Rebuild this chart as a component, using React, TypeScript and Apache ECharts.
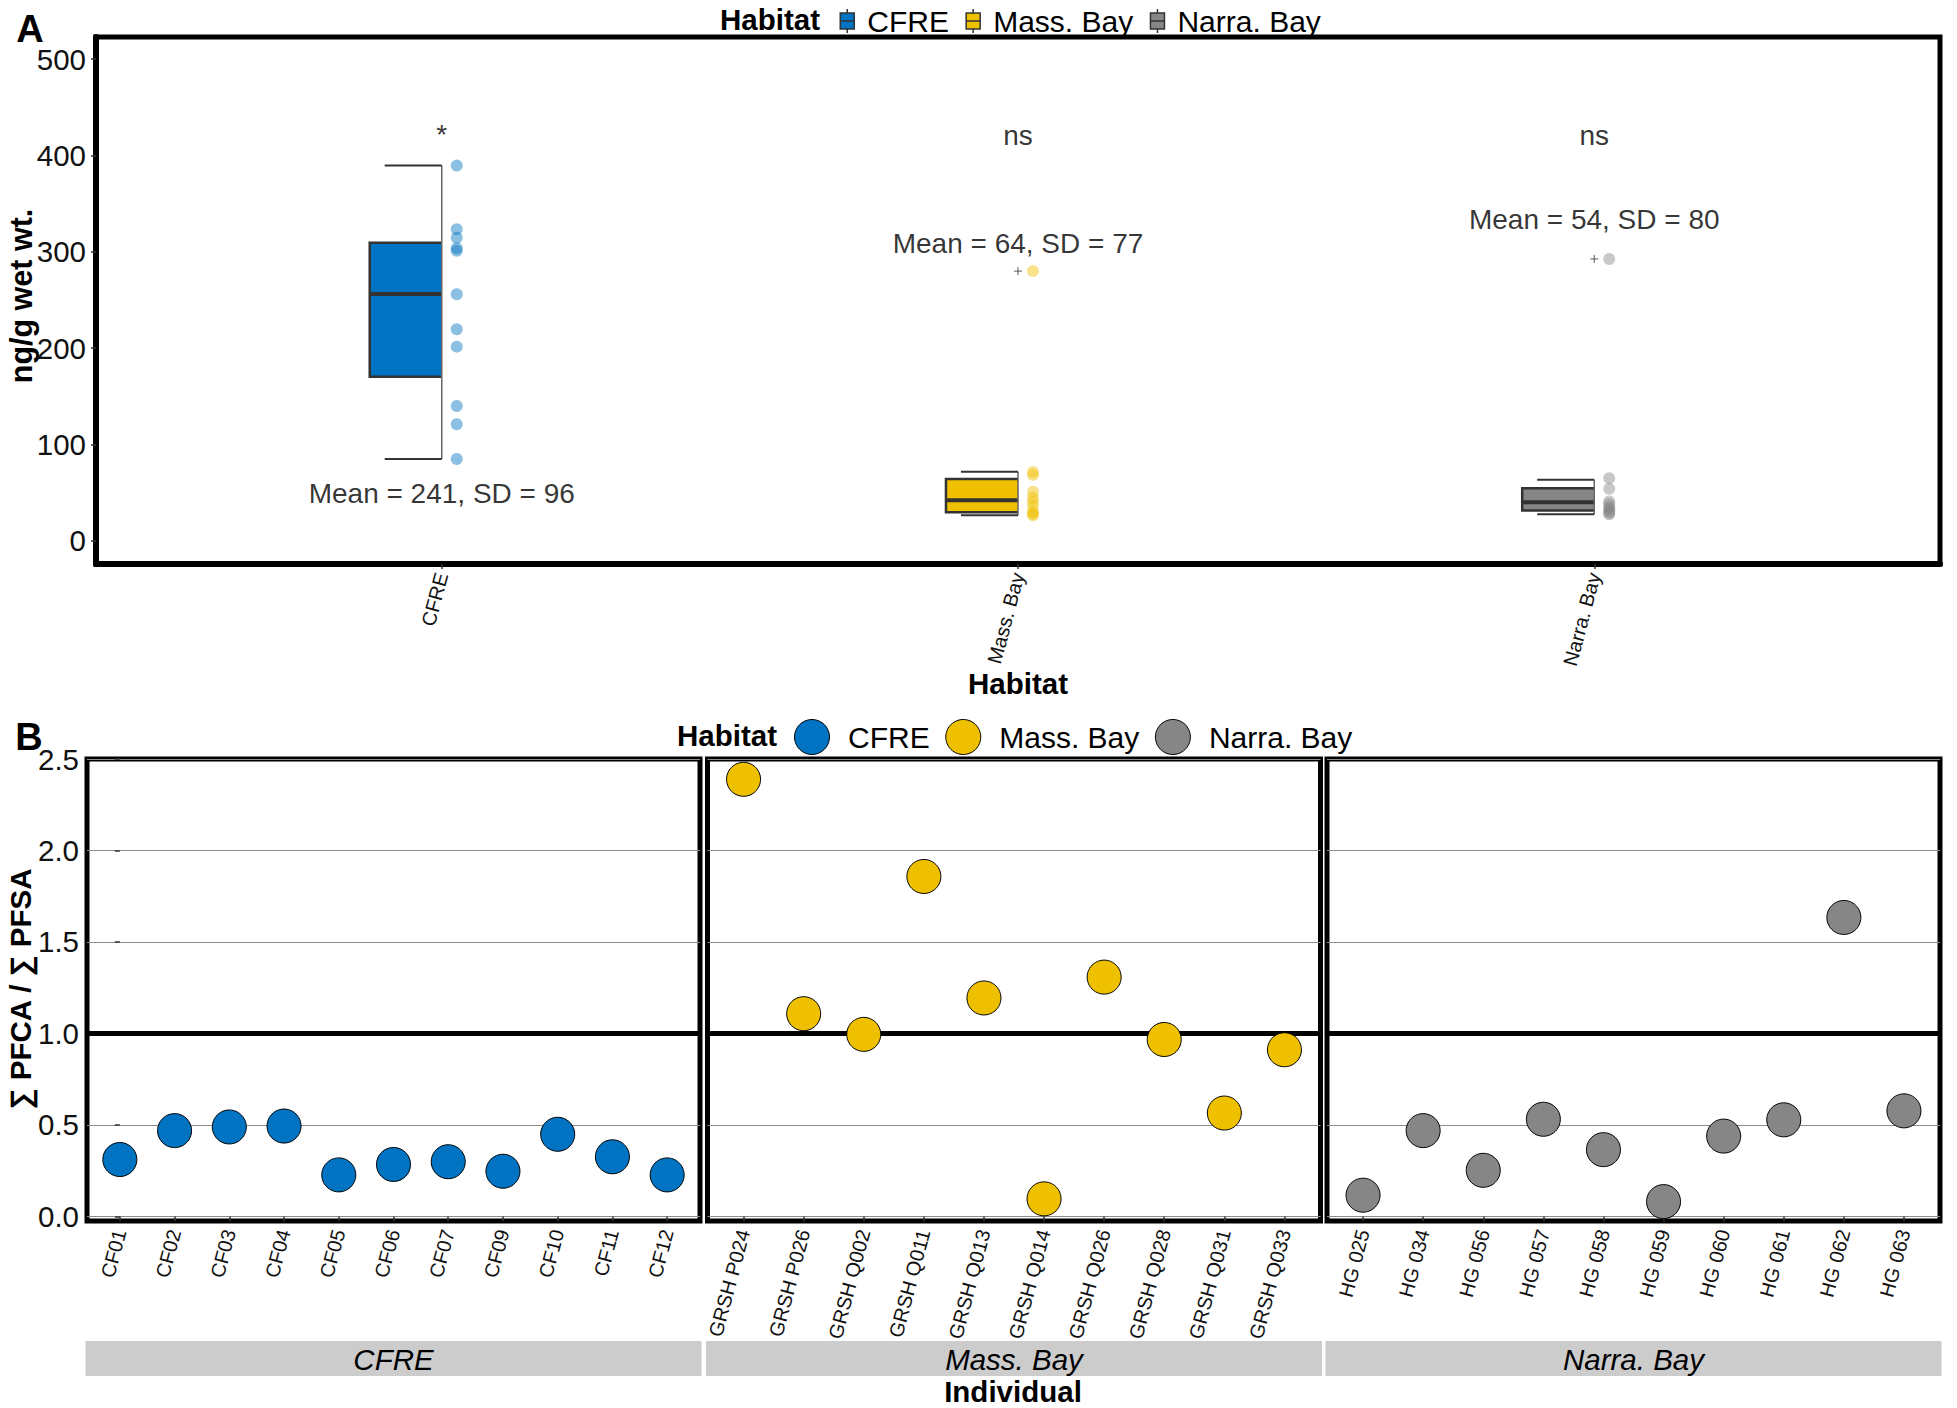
import React, { useEffect, useRef } from "react";
import * as echarts from "echarts";

// ---------- data ----------
const habitats = ["CFRE", "Mass. Bay", "Narra. Bay"];
const habitatColors = ["#0073C2", "#EFC000", "#868686"];

// Panel A: concentration (ng/g wet wt.) per individual
const cfreConc = [389.5, 323.4, 314.7, 303.7, 301.2, 256, 219.6, 201.6, 140, 121, 85];
const massConc = [280, 71.5, 68.5, 51, 45, 40.5, 36, 30, 28, 26.5];
const narraConc = [292.6, 65, 54, 41, 38, 35, 33, 31, 29, 27.7];
// box stats: [lower whisker, Q1, median, Q3, upper whisker]
const cfreBox = [85, 170.4, 256.3, 309.5, 389.5];
const massBox = [26.5, 29.6, 42.2, 64.3, 71.8];
const narraBox = [27.7, 31.5, 40, 54.6, 63.4];
const cfreOutliers: number[] = [];
const massOutliers = [280];
const narraOutliers = [292.6];
const meanLabels = ["Mean = 241, SD = 96", "Mean = 64, SD = 77", "Mean = 54, SD = 80"];
const meanLabelY = [49, 309, 334];
const sigLabels = ["*", "ns", "ns"];
const sigLabelY = [422, 421, 421];
const yTicksA = [0, 100, 200, 300, 400, 500];

// Panel B: ratio sum PFCA / sum PFSA per individual
const cfreIds = ["CF01", "CF02", "CF03", "CF04", "CF05", "CF06", "CF07", "CF09", "CF10", "CF11", "CF12"];
const cfreRatio = [0.311, 0.469, 0.489, 0.494, 0.227, 0.284, 0.299, 0.247, 0.449, 0.326, 0.227];
const massIds = ["GRSH P024", "GRSH P026", "GRSH Q002", "GRSH Q011", "GRSH Q013", "GRSH Q014", "GRSH Q026", "GRSH Q028", "GRSH Q031", "GRSH Q033"];
const massRatio = [2.389, 1.108, 0.995, 1.858, 1.194, 0.096, 1.308, 0.967, 0.565, 0.911];
const narraIds = ["HG 025", "HG 034", "HG 056", "HG 057", "HG 058", "HG 059", "HG 060", "HG 061", "HG 062", "HG 063"];
const narraRatio = [0.116, 0.469, 0.252, 0.531, 0.365, 0.081, 0.439, 0.528, 1.634, 0.577];
const yTicksB = [0, 0.5, 1.0, 1.5, 2.0, 2.5];
const refLineB = 1;

// ---------- layout / style ----------
const FONT = "Liberation Sans, Arial, Helvetica, sans-serif";
const FS = 29.5;
const A_GRID = { left: 96, top: 37, width: 1844, height: 527 };
const B_TOP = 759;
const B_HEIGHT = 462;
const B_LEFT = [87, 707.5, 1327];
const B_WIDTH = [613, 613, 613];
const BOX_W = 0.125;
const CAP_W = 0.099;
const POINT_OFFSET = 0.026;
const BOX_ICON = "path://M7,0L7,4M0,4L14,4L14,20L0,20ZM0,12L14,12M7,20L7,24";

const concArrays = [cfreConc, massConc, narraConc];
const boxArrays = [cfreBox, massBox, narraBox];
const outlierArrays = [cfreOutliers, massOutliers, narraOutliers];
const idArrays = [cfreIds, massIds, narraIds];
const ratioArrays = [cfreRatio, massRatio, narraRatio];

function renderHalfBox(_params: any, api: any) {
  const x = api.value(0);
  const lo = api.coord([x, api.value(1)]);
  const cx = lo[0];
  const yLo = lo[1];
  const yQ1 = api.coord([x, api.value(2)])[1];
  const yMed = api.coord([x, api.value(3)])[1];
  const yQ3 = api.coord([x, api.value(4)])[1];
  const yHi = api.coord([x, api.value(5)])[1];
  const unit = api.size([1, 0])[0];
  const bw = unit * BOX_W;
  const cw = unit * CAP_W;
  const color = api.visual("color");
  return {
    type: "group",
    children: [
      { type: "rect", shape: { x: cx - bw, y: yQ3, width: bw, height: yQ1 - yQ3 }, style: { fill: color } },
      {
        type: "polyline",
        shape: { points: [[cx, yQ3], [cx - bw, yQ3], [cx - bw, yQ1], [cx, yQ1]] },
        style: { fill: null, stroke: "#333333", lineWidth: 2.5 },
      },
      { type: "line", shape: { x1: cx - bw, y1: yMed, x2: cx, y2: yMed }, style: { stroke: "#333333", lineWidth: 4 } },
      { type: "line", shape: { x1: cx, y1: yHi, x2: cx, y2: yLo }, style: { stroke: "#666666", lineWidth: 1.5 } },
      { type: "line", shape: { x1: cx - cw, y1: yHi, x2: cx, y2: yHi }, style: { stroke: "#333333", lineWidth: 2 } },
      { type: "line", shape: { x1: cx - cw, y1: yLo, x2: cx, y2: yLo }, style: { stroke: "#333333", lineWidth: 2 } },
    ],
  };
}

function buildOption(): any {
  const grids: any[] = [
    { ...A_GRID, show: true, borderColor: "#000", borderWidth: 5, containLabel: false },
  ];
  B_LEFT.forEach((l, k) => {
    grids.push({ left: l, top: B_TOP, width: B_WIDTH[k], height: B_HEIGHT, show: true, borderColor: "#000", borderWidth: 5 });
  });

  const tickLabelStyle = { color: "#111", fontFamily: FONT };

  const xAxes: any[] = [
    {
      type: "value",
      gridIndex: 0,
      min: 0.4,
      max: 3.6,
      splitLine: { show: false },
      axisLine: { show: true, onZero: false, lineStyle: { color: "#000", width: 6 } },
      axisTick: { show: true, customValues: [1, 2, 3], length: 5, lineStyle: { color: "#333", width: 1.5 } },
      axisLabel: {
        show: true,
        customValues: [1, 2, 3],
        formatter: (v: number) => habitats[Math.round(v) - 1] ?? "",
        rotate: 75,
        fontSize: 20,
        margin: 9,
        ...tickLabelStyle,
      },
    },
  ];
  const yAxes: any[] = [
    {
      type: "value",
      gridIndex: 0,
      min: -24,
      max: 523,
      splitLine: { show: false },
      axisLine: { show: true, onZero: false, lineStyle: { color: "#000", width: 6 } },
      axisTick: { show: true, customValues: yTicksA, length: 5, lineStyle: { color: "#333", width: 1.5 } },
      axisLabel: { show: true, customValues: yTicksA, fontSize: FS, margin: 10, ...tickLabelStyle },
    },
  ];
  idArrays.forEach((ids, k) => {
    const idx = ids.map((_, i) => i);
    xAxes.push({
      type: "value",
      gridIndex: k + 1,
      min: -0.6,
      max: ids.length - 0.4,
      splitLine: { show: false },
      axisLine: { show: false },
      axisTick: { show: true, customValues: idx, length: 5, lineStyle: { color: "#333", width: 1.5 } },
      axisLabel: {
        show: true,
        customValues: idx,
        formatter: (v: number) => ids[Math.round(v)] ?? "",
        rotate: 75,
        fontSize: 20,
        margin: 9,
        ...tickLabelStyle,
      },
    });
    yAxes.push({
      type: "value",
      gridIndex: k + 1,
      min: -0.025,
      max: 2.5,
      splitLine: { show: true, lineStyle: { color: "#8c8c8c", width: 1 } },
      axisLine: { show: false },
      axisTick: { show: k === 0, customValues: yTicksB, length: 5, lineStyle: { color: "#333", width: 1.5 } },
      axisLabel: {
        show: k === 0,
        customValues: yTicksB,
        formatter: (v: number) => v.toFixed(1),
        fontSize: FS,
        margin: 8,
        ...tickLabelStyle,
      },
    });
  });

  const series: any[] = [];
  // Panel A half boxplots
  habitats.forEach((h, k) => {
    series.push({
      type: "custom",
      name: h,
      xAxisIndex: 0,
      yAxisIndex: 0,
      renderItem: renderHalfBox,
      itemStyle: { color: habitatColors[k] },
      encode: { x: 0, y: [1, 2, 3, 4, 5] },
      data: [[k + 1, ...boxArrays[k]]],
      z: 2,
    });
  });
  // Panel A points
  habitats.forEach((h, k) => {
    series.push({
      type: "scatter",
      xAxisIndex: 0,
      yAxisIndex: 0,
      symbolSize: 12,
      itemStyle: { color: habitatColors[k], opacity: 0.45 },
      data: concArrays[k].map((v) => [k + 1 + POINT_OFFSET, v]),
      z: 3,
    });
    if (outlierArrays[k].length) {
      series.push({
        type: "scatter",
        xAxisIndex: 0,
        yAxisIndex: 0,
        symbol: "path://M4,0L4,8M0,4L8,4",
        symbolSize: 8,
        itemStyle: { color: "#333", borderColor: "#333", borderWidth: 1 },
        data: outlierArrays[k].map((v) => [k + 1, v]),
        z: 3,
      });
    }
  });
  // Panel A annotations
  series.push({
    type: "scatter",
    xAxisIndex: 0,
    yAxisIndex: 0,
    symbolSize: 1,
    itemStyle: { color: "rgba(0,0,0,0)" },
    label: { show: true, position: "inside", formatter: "{b}", fontSize: 28, color: "#000", fontFamily: FONT },
    data: [
      ...meanLabels.map((t, k) => ({ name: t, value: [k + 1, meanLabelY[k]] })),
      ...sigLabels.map((t, k) => ({ name: t, value: [k + 1, sigLabelY[k]] })),
    ],
    z: 4,
  });
  // Panel B reference lines
  habitats.forEach((_, k) => {
    series.push({
      type: "scatter",
      xAxisIndex: k + 1,
      yAxisIndex: k + 1,
      data: [],
      z: 1,
      markLine: {
        silent: true,
        symbol: "none",
        label: { show: false },
        lineStyle: { color: "#000", width: 5, type: "solid" },
        data: [{ yAxis: refLineB }],
      },
    });
  });
  // Panel B points
  habitats.forEach((h, k) => {
    series.push({
      type: "scatter",
      name: h,
      xAxisIndex: k + 1,
      yAxisIndex: k + 1,
      symbolSize: 34,
      itemStyle: { color: habitatColors[k], borderColor: "#000", borderWidth: 1, opacity: 1 },
      data: ratioArrays[k].map((v, i) => [i, v]),
      z: 5,
    });
  });

  const textStyleBase = { fontFamily: FONT, fill: "#000" };
  const txt = (text: string, x: number, y: number, size: number, extra: any = {}, rotation = 0) => ({
    type: "text",
    x,
    y,
    rotation,
    style: {
      text,
      fontSize: size,
      align: "center",
      verticalAlign: "middle",
      textAlign: "center",
      textVerticalAlign: "middle",
      ...textStyleBase,
      ...extra,
    },
  });

  const graphics: any[] = [
    txt("A", 30, 29, 38, { fontWeight: "bold" }),
    txt("B", 29, 737, 38, { fontWeight: "bold" }),
    txt("Habitat", 820, 19, 29.5, { fontWeight: "bold", align: "right", textAlign: "right" }),
    txt("Habitat", 777, 735, 29.5, { fontWeight: "bold", align: "right", textAlign: "right" }),
    txt("ng/g wet wt.", 21, 296, 30.5, { fontWeight: "bold" }, Math.PI / 2),
    txt("∑ PFCA / ∑ PFSA", 20, 989, 29.5, { fontWeight: "bold" }, Math.PI / 2),
    txt("Habitat", 1018, 683, 29.5, { fontWeight: "bold" }),
    txt("Individual", 1013, 1391, 29.5, { fontWeight: "bold" }),
  ];
  B_LEFT.forEach((l, k) => {
    graphics.push({
      type: "rect",
      shape: { x: l - 1.5, y: 1341, width: B_WIDTH[k] + 3, height: 35 },
      style: { fill: "#CCCCCC" },
    });
    graphics.push(txt(habitats[k], l + B_WIDTH[k] / 2, 1359, 29.5, { fontStyle: "italic" }));
  });

  return {
    animation: false,
    backgroundColor: "#fff",
    textStyle: { fontFamily: FONT },
    grid: grids,
    xAxis: xAxes,
    yAxis: yAxes,
    legend: [
      {
        left: 834.5,
        top: 1,
        orient: "horizontal",
        itemWidth: 30,
        itemHeight: 24,
        itemGap: 16.5,
        symbolKeepAspect: true,
        selectedMode: false,
        textStyle: { fontSize: 30, color: "#000", fontFamily: FONT },
        itemStyle: { borderColor: "#333", borderWidth: 1.5 },
        data: habitats.map((h) => ({ name: h, icon: BOX_ICON })),
      },
      {
        left: 789,
        top: 714,
        orient: "horizontal",
        itemWidth: 62,
        itemHeight: 35,
        itemGap: 15.6,
        symbolKeepAspect: true,
        selectedMode: false,
        textStyle: { fontSize: 30, color: "#000", fontFamily: FONT },
        itemStyle: { borderColor: "#000", borderWidth: 1 },
        data: habitats.map((h) => ({ name: h, icon: "circle" })),
      },
    ],
    graphic: { elements: graphics },
    series,
  };
}

export default function App() {
  const ref = useRef<HTMLDivElement>(null);
  useEffect(() => {
    document.body.style.margin = "0";
    const chart = echarts.init(ref.current!, undefined, { renderer: "svg" });
    chart.setOption(buildOption());
    return () => chart.dispose();
  }, []);
  return <div ref={ref} style={{ width: 1957, height: 1408 }} />;
}
